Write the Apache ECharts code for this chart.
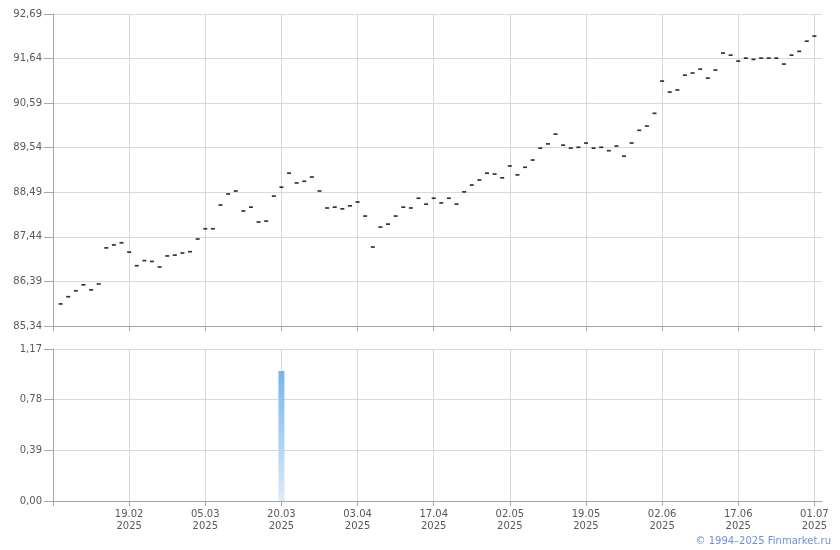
<!DOCTYPE html>
<html><head><meta charset="utf-8">
<script src="https://cdn.jsdelivr.net/npm/echarts@6/dist/echarts.min.js"></script>
<style>html,body{margin:0;padding:0;background:#fff}#c{width:840px;height:550px}</style>
</head><body><div id="c"></div>
<script>
const dates = [
'06.02.2025','07.02.2025','10.02.2025','11.02.2025','12.02.2025','13.02.2025','14.02.2025','17.02.2025','18.02.2025','19.02.2025',
'20.02.2025','21.02.2025','24.02.2025','25.02.2025','26.02.2025','27.02.2025','28.02.2025','03.03.2025','04.03.2025','05.03.2025',
'06.03.2025','07.03.2025','11.03.2025','12.03.2025','13.03.2025','14.03.2025','17.03.2025','18.03.2025','19.03.2025','20.03.2025',
'21.03.2025','24.03.2025','25.03.2025','26.03.2025','27.03.2025','28.03.2025','31.03.2025','01.04.2025','02.04.2025','03.04.2025',
'04.04.2025','07.04.2025','08.04.2025','09.04.2025','10.04.2025','11.04.2025','14.04.2025','15.04.2025','16.04.2025','17.04.2025',
'18.04.2025','21.04.2025','22.04.2025','23.04.2025','24.04.2025','25.04.2025','28.04.2025','29.04.2025','30.04.2025','02.05.2025',
'05.05.2025','06.05.2025','07.05.2025','08.05.2025','12.05.2025','13.05.2025','14.05.2025','15.05.2025','16.05.2025','19.05.2025',
'20.05.2025','21.05.2025','22.05.2025','23.05.2025','26.05.2025','27.05.2025','28.05.2025','29.05.2025','30.05.2025','02.06.2025',
'03.06.2025','04.06.2025','05.06.2025','06.06.2025','09.06.2025','10.06.2025','11.06.2025','13.06.2025','16.06.2025','17.06.2025',
'18.06.2025','19.06.2025','20.06.2025','23.06.2025','24.06.2025','25.06.2025','26.06.2025','27.06.2025','30.06.2025','01.07.2025'
];
const prices = [
85.86,86.03,86.17,86.31,86.19,86.33,87.18,87.25,87.30,87.08,
86.76,86.88,86.86,86.73,86.99,87.01,87.06,87.09,87.39,87.63,
87.63,88.19,88.45,88.52,88.05,88.14,87.79,87.81,88.40,88.61,
88.94,88.71,88.75,88.85,88.52,88.12,88.14,88.10,88.17,88.26,
87.93,87.20,87.67,87.74,87.93,88.14,88.12,88.35,88.21,88.35,
88.24,88.35,88.21,88.50,88.66,88.78,88.94,88.92,88.83,89.11,
88.90,89.08,89.25,89.53,89.63,89.86,89.60,89.53,89.55,89.65,
89.53,89.55,89.47,89.58,89.34,89.65,89.95,90.05,90.35,91.11,
90.85,90.90,91.25,91.30,91.39,91.18,91.37,91.77,91.72,91.58,
91.65,91.62,91.65,91.65,91.65,91.51,91.72,91.81,92.05,92.17
];
const volumeDates = ['20.03.2025'];
const volumeValues = [1.00];
const priceAxis = {min: 85.34, max: 92.69, interval: 1.05};
const volumeAxis = {min: 0, max: 1.17, interval: 0.39};
const copyright = '© 1994–2025 Finmarket.ru';

// padding categories at both ends (empty)
const cats = [''].concat(dates, ['']);

const AXIS = '#a6a6b2', GRID = '#d6dadf', TXT = '#585858';
const FONT = 'DejaVu Sans';
const fmt = v => v.toFixed(2).replace('.', ',');

function xAxisCfg(gi, showLabels) {
  return {
    type: 'category', gridIndex: gi, data: cats, boundaryGap: false,
    axisLine: {show: true, lineStyle: {color: AXIS, width: 1}},
    axisTick: {show: true, interval: 9, length: 5, lineStyle: {color: AXIS}},
    splitLine: {show: true, interval: 9, lineStyle: {color: GRID, width: 1}},
    axisLabel: {
      show: showLabels, interval: 9, margin: 7, color: TXT, fontFamily: FONT, fontSize: 10, lineHeight: 12,
      formatter: v => v ? v.slice(0, 5) + '\n' + v.slice(6) : ''
    }
  };
}
function yAxisCfg(gi, a) {
  return {
    type: 'value', gridIndex: gi, min: a.min, max: a.max, interval: a.interval,
    axisLine: {show: true, lineStyle: {color: AXIS, width: 1}},
    axisTick: {show: true, length: 9, lineStyle: {color: AXIS}},
    splitLine: {show: true, lineStyle: {color: GRID, width: 1}},
    axisLabel: {color: TXT, fontFamily: FONT, fontSize: 10, margin: 11, formatter: fmt}
  };
}

const chart = echarts.init(document.getElementById('c'), null, {renderer: 'canvas'});
chart.setOption({
  animation: false,
  backgroundColor: '#fff',
  grid: [
    {left: 53, right: 18, top: 14, height: 312},
    {left: 53, right: 18, top: 349, height: 152}
  ],
  xAxis: [xAxisCfg(0, false), xAxisCfg(1, true)],
  yAxis: [yAxisCfg(0, priceAxis), yAxisCfg(1, volumeAxis)],
  series: [
    {
      type: 'scatter', xAxisIndex: 0, yAxisIndex: 0,
      symbol: 'rect', symbolSize: [4, 1.7],
      itemStyle: {color: '#000'},
      data: dates.map((d, i) => [d, prices[i]])
    },
    {
      type: 'bar', xAxisIndex: 1, yAxisIndex: 1, barWidth: 6,
      itemStyle: {color: new echarts.graphic.LinearGradient(0, 0, 0, 1, [
        {offset: 0, color: '#74b6ef'}, {offset: 1, color: '#dfeaf7'}
      ])},
      data: volumeDates.map((d, i) => [d, volumeValues[i]])
    }
  ],
  graphic: [{
    type: 'text', right: 9, top: 536,
    style: {text: copyright, fill: '#6f90d8', font: '10px "DejaVu Sans"'}
  }]
});
</script>
</body></html>
